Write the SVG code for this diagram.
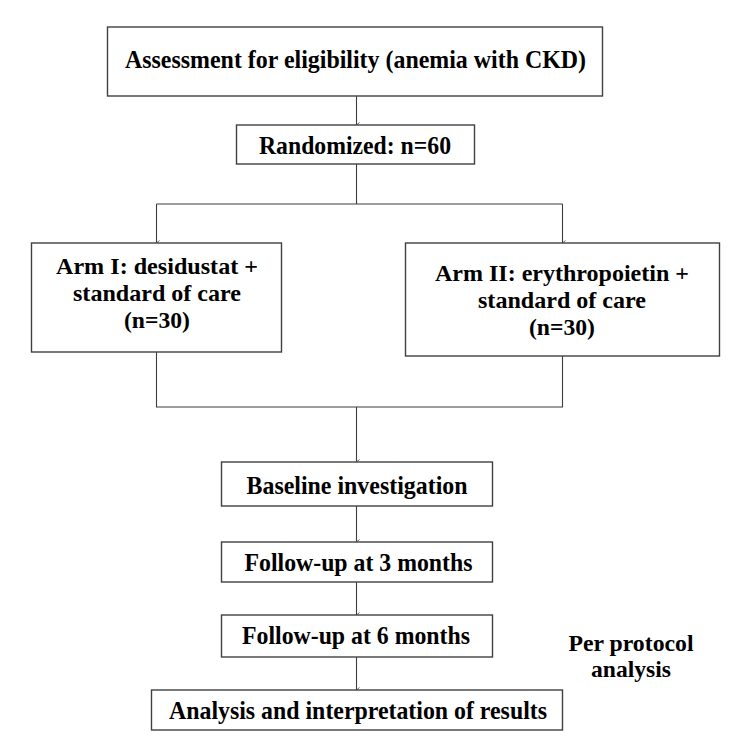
<svg xmlns="http://www.w3.org/2000/svg" width="750" height="754" viewBox="0 0 750 754">
<defs>
<marker id="ah" viewBox="0 0 8 8" refX="4" refY="7.5" markerWidth="8" markerHeight="8" markerUnits="userSpaceOnUse" orient="auto-start-reverse">
<path d="M1.5,4.5 L4,7.5 L6.5,4.5" fill="none" stroke="#555" stroke-width="0.9"/>
</marker>
<style>
.box{fill:#fff;stroke:#404040;stroke-width:1.4}
.t{font-family:"Liberation Serif","Times New Roman",serif;font-weight:bold;font-size:26px;fill:#000;text-anchor:middle}
.m{font-size:24px}
.c{fill:none;stroke:#3c3c3c;stroke-width:1.1}
</style>
</defs>
<rect width="750" height="754" fill="#fff"/>
<g id="connectors">
<line class="c" x1="356.5" y1="96" x2="356.5" y2="125" marker-end="url(#ah)"/>
<polyline class="c" points="356.5,164 356.5,204"/>
<polyline class="c" points="156.5,204 562.5,204"/>
<line class="c" x1="156.5" y1="204" x2="156.5" y2="243" marker-end="url(#ah)"/>
<line class="c" x1="562.5" y1="204" x2="562.5" y2="243" marker-end="url(#ah)"/>
<polyline class="c" points="156.5,352 156.5,407 562.5,407 562.5,356"/>
<line class="c" x1="356.5" y1="407" x2="356.5" y2="462" marker-end="url(#ah)"/>
<line class="c" x1="356.5" y1="506" x2="356.5" y2="542" marker-end="url(#ah)"/>
<line class="c" x1="356.5" y1="582" x2="356.5" y2="615" marker-end="url(#ah)"/>
<line class="c" x1="356.5" y1="657" x2="356.5" y2="690" marker-end="url(#ah)"/>
</g>
<g id="assessment">
<rect class="box" x="107.5" y="27" width="495" height="69"/>
<text class="t" x="355.5" y="68" textLength="461" lengthAdjust="spacingAndGlyphs">Assessment for eligibility (anemia with CKD)</text>
</g>
<g id="randomized">
<rect class="box" x="236.5" y="125" width="238" height="39"/>
<text class="t" x="355" y="154" textLength="192" lengthAdjust="spacingAndGlyphs">Randomized: n=60</text>
</g>
<g id="arm1">
<rect class="box" x="31.5" y="243" width="250" height="109"/>
<text class="t m" x="157" y="274" textLength="202" lengthAdjust="spacingAndGlyphs">Arm I: desidustat +</text>
<text class="t m" x="157" y="301" textLength="168" lengthAdjust="spacingAndGlyphs">standard of care</text>
<text class="t m" x="157" y="328" textLength="66" lengthAdjust="spacingAndGlyphs">(n=30)</text>
</g>
<g id="arm2">
<rect class="box" x="405.5" y="243" width="314" height="113"/>
<text class="t m" x="562" y="281" textLength="254" lengthAdjust="spacingAndGlyphs">Arm II: erythropoietin +</text>
<text class="t m" x="562" y="308" textLength="168" lengthAdjust="spacingAndGlyphs">standard of care</text>
<text class="t m" x="562" y="335" textLength="66" lengthAdjust="spacingAndGlyphs">(n=30)</text>
</g>
<g id="baseline">
<rect class="box" x="221.5" y="462" width="271" height="44"/>
<text class="t" x="357" y="494" textLength="221" lengthAdjust="spacingAndGlyphs">Baseline investigation</text>
</g>
<g id="followup3">
<rect class="box" x="221.5" y="542" width="271" height="40"/>
<text class="t" x="358.5" y="571" textLength="228" lengthAdjust="spacingAndGlyphs">Follow-up at 3 months</text>
</g>
<g id="followup6">
<rect class="box" x="221.5" y="615" width="271" height="42"/>
<text class="t" x="356" y="644" textLength="228" lengthAdjust="spacingAndGlyphs">Follow-up at 6 months</text>
</g>
<g id="analysis">
<rect class="box" x="151.5" y="690" width="411" height="40"/>
<text class="t" x="358" y="719" textLength="378" lengthAdjust="spacingAndGlyphs">Analysis and interpretation of results</text>
</g>
<g id="perprotocol">
<text class="t m" x="631" y="651" textLength="125" lengthAdjust="spacingAndGlyphs">Per protocol</text>
<text class="t m" x="631" y="677" textLength="80" lengthAdjust="spacingAndGlyphs">analysis</text>
</g>
</svg>
